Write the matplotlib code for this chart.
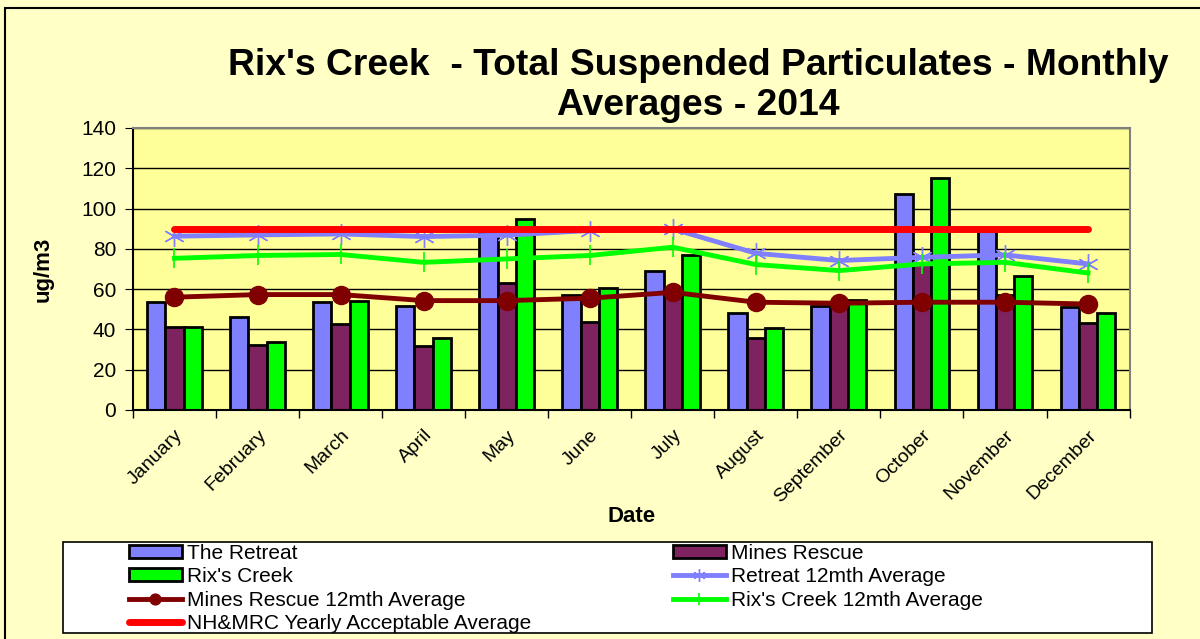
import numpy as np
import matplotlib
matplotlib.use("Agg")
import matplotlib.pyplot as plt
from matplotlib.patches import Rectangle

plt.rcParams['font.family'] = ['Liberation Sans', 'DejaVu Sans']

# Data
months = ["January", "February", "March", "April", "May", "June",
          "July", "August", "September", "October", "November", "December"]
retreat = [53.5, 46.4, 53.5, 51.5, 88.0, 57.3, 69.2, 48.2, 51.8, 107.0, 89.0, 51.0]
mines_rescue = [41.1, 32.5, 42.7, 31.6, 62.9, 43.9, 58.0, 35.6, 53.0, 72.5, 57.0, 43.2]
rixs_creek = [41.1, 33.8, 54.0, 35.6, 94.9, 60.4, 77.0, 40.6, 54.6, 115.2, 66.7, 48.2]
retreat_avg = [86.3, 86.9, 87.4, 86.1, 86.8, 89.1, 89.9, 77.8, 74.2, 75.8, 77.0, 72.5]
mines_avg = [56.0, 57.3, 57.3, 54.3, 54.3, 55.5, 58.4, 53.5, 53.0, 53.5, 53.5, 52.6]
rixs_avg = [75.3, 76.7, 77.2, 73.3, 75.0, 76.7, 80.8, 72.2, 69.2, 72.5, 73.3, 68.0]
nhmrc_limit = [90] * 12

BG = "#FFFFC6"
PLOT_BG = "#FFFF99"

fig = plt.figure(figsize=(12, 6.39), dpi=100, facecolor=BG)
ax = fig.add_axes([0.1108, 0.3584, 0.8305, 0.4413])
ax.set_facecolor(PLOT_BG)

x = np.arange(len(months))
w = 0.22
b1 = ax.bar(x - w, retreat, w, color="#8080FF", edgecolor="black", linewidth=2,
            label="The Retreat", zorder=2)
b2 = ax.bar(x, mines_rescue, w, color="#7F2260", edgecolor="black", linewidth=2,
            label="Mines Rescue", zorder=2)
b3 = ax.bar(x + w, rixs_creek, w, color="#00FF00", edgecolor="black", linewidth=2,
            label="Rix's Creek", zorder=2)

l_ret, = ax.plot(x, retreat_avg, color="#8080FF", lw=3.5, marker=(6, 2, 0), ms=15,
                 mec="#8080FF", mew=1, label="Retreat 12mth Average", zorder=3)
l_mines, = ax.plot(x, mines_avg, color="#800000", lw=3.5, marker="o", ms=13,
                   label="Mines Rescue 12mth Average", zorder=3)
l_rix, = ax.plot(x, rixs_avg, color="#00FF00", lw=3.5, marker="|", ms=15, mew=1.2,
                 label="Rix's Creek 12mth Average", zorder=3)
l_lim, = ax.plot(x, nhmrc_limit, color="#FF0000", lw=5, solid_capstyle="round",
                 label="NH&MRC Yearly Acceptable Average", zorder=4)

ax.set_xlim(-0.5, 11.5)
ax.set_ylim(0, 140)
ax.set_yticks(np.arange(0, 141, 20))
ax.yaxis.grid(True, color="black", lw=1)
ax.set_axisbelow(True)
ax.set_xticks(x)
ax.set_xticklabels(months, rotation=45, ha="right", rotation_mode="anchor", fontsize=14)
ax.tick_params(axis="x", length=0, pad=12)
ax.set_xticks(np.arange(-0.5, 12, 1), minor=True)
ax.tick_params(axis="x", which="minor", length=6, direction="out", width=1)
ax.tick_params(axis="y", length=6, direction="out", labelsize=15, pad=6)
for s in ["top", "right"]:
    ax.spines[s].set_color("#808080")
    ax.spines[s].set_linewidth(1.5)
for s in ["left", "bottom"]:
    ax.spines[s].set_color("black")
    ax.spines[s].set_linewidth(1.5)

ax.set_ylabel("ug/m3", fontsize=16, fontweight="bold", labelpad=20)
ax.set_xlabel("Date", fontsize=16, fontweight="bold", labelpad=0)

fig.text(0.582, 0.866, "Rix's Creek  - Total Suspended Particulates - Monthly\nAverages - 2014",
         ha="center", va="center", fontsize=26.8, fontweight="bold", linespacing=1.2)

# outer border and legend box
fig.patches.append(Rectangle((0.004, -0.01), 1.2, 0.9975, transform=fig.transFigure,
                             fill=False, edgecolor="black", lw=1.5))
fig.patches.append(Rectangle((63 / 1200, 1 - 633 / 639), (1152 - 63) / 1200, (633 - 542) / 639,
                             transform=fig.transFigure, facecolor="white",
                             edgecolor="black", lw=1.2))

handles = [b1, b3, l_mines, l_lim, b2, l_ret, l_rix]
labels = [h.get_label() for h in handles]
fig.legend(handles, labels, ncol=2, loc="upper left",
           bbox_to_anchor=(114 / 1200, 1 - 529 / 639), frameon=False,
           fontsize=15, handlelength=2.55, handleheight=0.6, handletextpad=0.25,
           labelspacing=0.22, columnspacing=6.8, borderpad=0.2, markerscale=0.6)

fig.savefig("out.png", dpi=100, facecolor=BG)
